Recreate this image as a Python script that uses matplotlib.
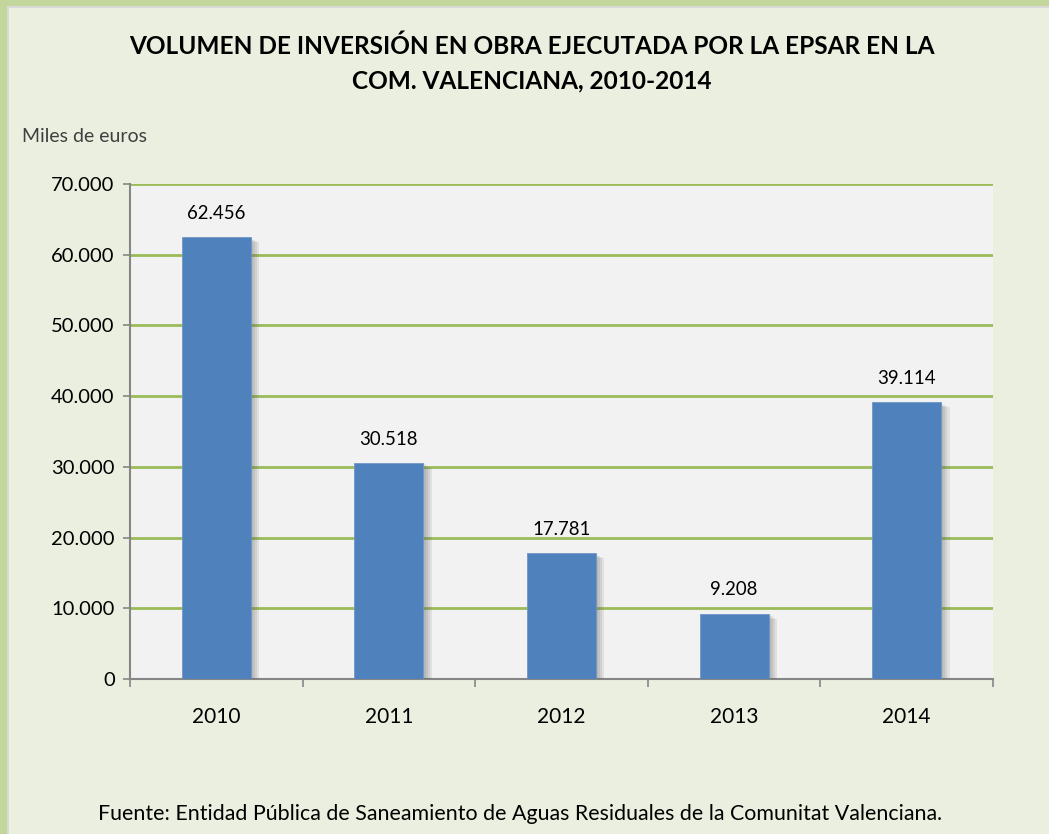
import matplotlib
matplotlib.use("Agg")
import matplotlib.pyplot as plt
import matplotlib.patheffects as pe
from matplotlib.patches import Rectangle
from matplotlib.ticker import FuncFormatter

# Datos del gráfico
years = ["2010", "2011", "2012", "2013", "2014"]
inversion = [62456, 30518, 17781, 9208, 39114]
y_ticks = [0, 10000, 20000, 30000, 40000, 50000, 60000, 70000]

title = "VOLUMEN DE INVERSIÓN EN OBRA EJECUTADA POR LA EPSAR EN LA\nCOM. VALENCIANA, 2010-2014"
unit_label = "Miles de euros"
source = "Fuente: Entidad Pública de Saneamiento de Aguas Residuales de la Comunitat Valenciana."

plt.rcParams["font.family"] = ["Lato", "DejaVu Sans"]


def miles(v):
    # formato con punto de miles
    return f"{int(v):,}".replace(",", ".")


fig = plt.figure(figsize=(10.49, 8.34), dpi=100)
fig.patch.set_facecolor("#ebefdf")

# marco verde arriba e izquierda
fig.add_artist(Rectangle((0, 1 - 6 / 834), 1, 6 / 834, transform=fig.transFigure,
                         facecolor="#c3d69b", edgecolor="none"))
fig.add_artist(Rectangle((0, 0), 7 / 1049, 1, transform=fig.transFigure,
                         facecolor="#c3d69b", edgecolor="none"))
fig.add_artist(Rectangle((7 / 1049, 1 - 8 / 834), 1, 2 / 834, transform=fig.transFigure,
                         facecolor="#d9d9d9", edgecolor="none"))
fig.add_artist(Rectangle((7 / 1049, 0), 2 / 1049, 1 - 6 / 834, transform=fig.transFigure,
                         facecolor="#d9d9d9", edgecolor="none"))

ax = fig.add_axes([130 / 1049, 1 - 679 / 834, 863 / 1049, 495 / 834])
ax.set_facecolor("#f2f2f2")

x = list(range(len(years)))
bars = ax.bar(x, inversion, width=0.4, color="#4f81bd", zorder=3,
              edgecolor="#6f97c8", linewidth=0.6)
# sombra difusa a la derecha
shadow = [pe.SimplePatchShadow(offset=(d, -d * 0.6), shadow_rgbFace="#606060", alpha=0.12)
          for d in (6, 4.5, 3, 1.5)]
for b in bars:
    b.set_path_effects(shadow + [pe.Normal()])

for xi, v in zip(x, inversion):
    ax.text(xi, v + 2200, miles(v), ha="center", va="bottom", fontsize=13.4, color="#000000")

ax.set_xlim(-0.5, len(years) - 0.5)
ax.set_ylim(0, 70000)
ax.set_yticks(y_ticks)
ax.yaxis.set_major_formatter(FuncFormatter(lambda v, p: miles(v)))
ax.yaxis.grid(True, color="#9bbb59", linewidth=2, zorder=1)
ax.set_axisbelow(True)

ax.set_xticks(x)
ax.set_xticklabels(years)
ax.set_xticks([i - 0.5 for i in range(len(years) + 1)], minor=True)
ax.tick_params(axis="x", which="major", length=0, pad=20, labelsize=15)
ax.tick_params(axis="x", which="minor", length=6, color="#868686", width=1.2)
ax.tick_params(axis="y", length=5, color="#868686", width=1.2, labelsize=14.5, pad=6)

for s in ["top", "right"]:
    ax.spines[s].set_visible(False)
for s in ["left", "bottom"]:
    ax.spines[s].set_color("#868686")
    ax.spines[s].set_linewidth(1.5)

fig.text(532 / 1049, 1 - 63 / 834, title, ha="center", va="center", fontsize=17.6,
         fontweight="bold", linespacing=1.6)
fig.text(22 / 1049, 1 - 137 / 834, unit_label, ha="left", va="center", fontsize=14,
         color="#404040")
fig.text(520 / 1049, 1 - 814 / 834, source, ha="center", va="center", fontsize=15.4)

fig.savefig("out.png", dpi=100, facecolor=fig.get_facecolor())
